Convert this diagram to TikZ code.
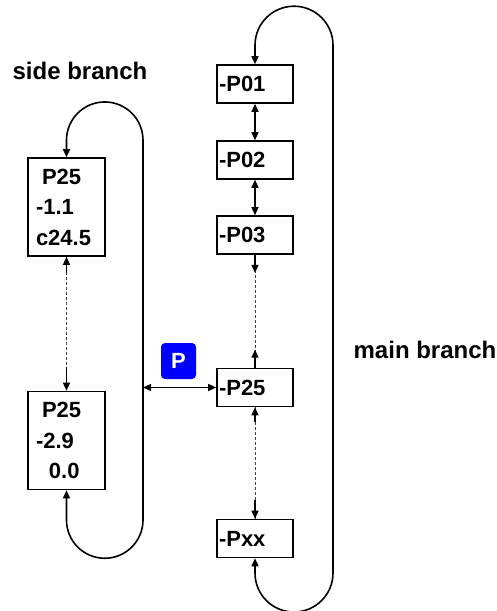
\documentclass[tikz,border=0pt]{standalone}
\usepackage{fontspec}
\setmainfont{Liberation Sans}
\usetikzlibrary{arrows.meta}

\begin{document}
\begin{tikzpicture}[x=1pt, y=1pt, >={Triangle[length=8pt,width=7pt]},
  font=\bfseries\fontsize{22}{30.5}\selectfont,
  mainbox/.style={draw, line width=1.6pt, minimum height=38pt, text width=72pt, inner xsep=2pt, align=left},
  sidebox/.style={draw, line width=1.6pt, minimum height=98pt, text width=61pt, inner xsep=8pt, align=left},
  label/.style={font=\bfseries\fontsize{24}{28}\selectfont},
  loopline/.style={line width=1.6pt},
  link/.style={line width=1.3pt},
  dotlink/.style={line width=0.9pt, black!75, dash pattern=on 3pt off 2pt}]

  \useasboundingbox (0,0) rectangle (496,-611);

  % -------------------------
  % Side branch
  % -------------------------
  \node[label] (sidelabel) at (80,-71) {side branch};

  \node[sidebox] (sb1) at (66.5,-207) {\hspace*{6pt}P25\\-1.1\\c24.5};
  \node[sidebox] (sb2) at (66.5,-440.5) {\hspace*{6pt}P25\\-2.9\\\hspace*{13pt}0.0};

  \coordinate (sbot) at (143,-520);
  \coordinate (sjoin) at (143,-387.5);

  \draw[loopline, <->] (sb1.north) -- ++(0,17)
    arc[start angle=180, end angle=0, radius=38.25] -- (sbot)
    arc[start angle=0, end angle=-180, radius=38.25] -- (sb2.south);

  \draw[dotlink] (sb1.south) -- (sb2.north);
  \draw[link, <-] (sb1.south) -- ++(0,-16);
  \draw[link, <-] (sb2.north) -- ++(0,24);

  % -------------------------
  % Main branch
  % -------------------------
  \node[label] (mainlabel) at (425,-350) {main branch};

  \node[mainbox] (P01) at (255,-84) {-P01};
  \node[mainbox] (P02) at (255,-160) {-P02};
  \node[mainbox] (P03) at (255,-235) {-P03};
  \node[mainbox] (P25) at (255,-387.5) {-P25};
  \node[mainbox] (Pxx) at (255,-538.5) {-Pxx};

  \coordinate (mbot) at (333,-573);

  \draw[loopline, <->] (P01.north) -- ++(0,19)
    arc[start angle=180, end angle=0, radius=39] -- (mbot)
    arc[start angle=0, end angle=-180, radius=39] -- (Pxx.south);

  \draw[link, <->] (P01) -- (P02);
  \draw[link, <->] (P02) -- (P03);

  \draw[dotlink] (P03.south) -- (P25.north);
  \draw[link, ->] (P03.south) -- ++(0,-18);
  \draw[link, ->] (P25.north) -- ++(0,18);

  \draw[dotlink] (P25.south) -- (Pxx.north);
  \draw[link, <-] (P25.south) -- ++(0,-15);
  \draw[link, <-] (Pxx.north) -- ++(0,19);

  % -------------------------
  % Junction
  % -------------------------
  \node[fill=blue, rounded corners=4pt, minimum width=35pt, minimum height=36pt,
    inner sep=0pt, text=white] (pbadge) at (178.5,-361) {P};

  \draw[link, <->] (sjoin) -- (P25.west);

\end{tikzpicture}
\end{document}
